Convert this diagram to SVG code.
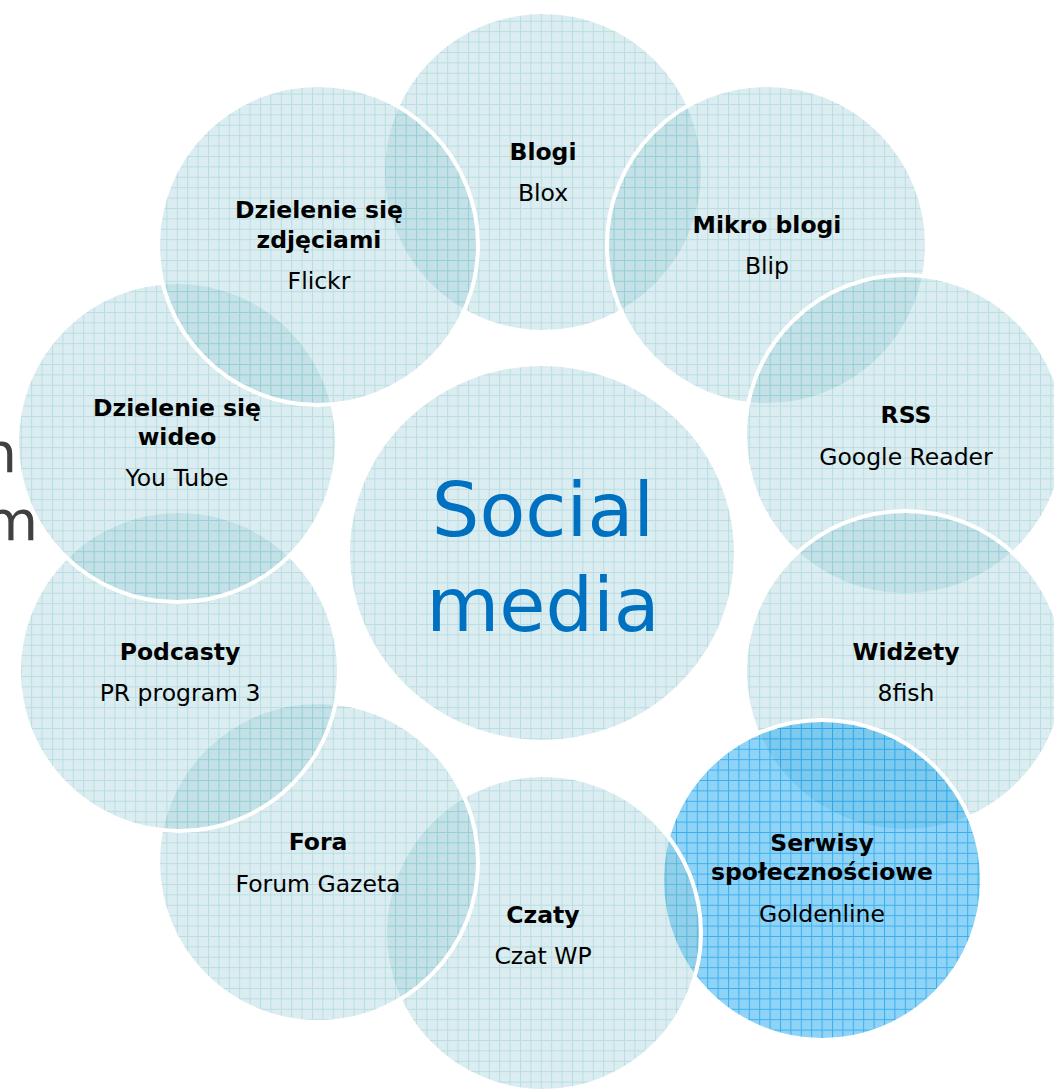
<svg xmlns="http://www.w3.org/2000/svg" width="1054" height="1092" viewBox="0 0 1054 1092">
  <defs>
    <pattern id="gridTeal" patternUnits="userSpaceOnUse" width="10.4" height="10.4">
      <rect width="10.4" height="10.4" fill="rgb(150,204,212)" fill-opacity="0.34"/>
      <path d="M0 0.5H10.4M0.5 0V10.4" stroke="rgb(110,188,198)" stroke-opacity="0.32" stroke-width="1" fill="none"/>
    </pattern>
    <pattern id="gridBlue" patternUnits="userSpaceOnUse" width="10.4" height="10.4">
      <rect width="10.4" height="10.4" fill="rgb(40,172,238)" fill-opacity="0.52"/>
      <path d="M0 0.5H10.4M0.5 0V10.4" stroke="rgb(0,150,232)" stroke-opacity="0.6" stroke-width="1" fill="none"/>
    </pattern>
    <style>
      .c { fill: url(#gridTeal); stroke: #ffffff; stroke-width: 4; }
      .cb { fill: url(#gridBlue); stroke: #ffffff; stroke-width: 4; }
      .bd { fill: #ffffff; }
      .t { font-family: "DejaVu Sans", Verdana, sans-serif; font-size: 23.5px; fill: #000000; text-anchor: middle; }
      .b { font-weight: bold; }
      .big { font-family: "DejaVu Sans", Verdana, sans-serif; font-size: 75px; fill: #0070c0; text-anchor: middle; }
      .bg { font-family: "DejaVu Sans", Verdana, sans-serif; font-size: 56px; fill: #404040; text-anchor: end; }
    </style>
  </defs>

  <rect width="1054" height="1092" fill="#ffffff"/>

  <g id="background-text">
    <text class="bg" x="17" y="472">n</text>
    <text class="bg" x="38" y="540">m</text>
  </g>

  <g id="backdrop">
    <ellipse class="bd" cx="542" cy="553" rx="194" ry="189"/>
    <circle class="bd" cx="543" cy="172" r="160"/>
    <circle class="bd" cx="767" cy="245" r="160"/>
    <circle class="bd" cx="905" cy="435" r="160"/>
    <circle class="bd" cx="905" cy="671" r="160"/>
    <circle class="bd" cx="822" cy="880" r="160"/>
    <circle class="bd" cx="543" cy="933" r="158"/>
    <circle class="bd" cx="318" cy="862" r="160"/>
    <circle class="bd" cx="179" cy="671" r="160"/>
    <circle class="bd" cx="177" cy="442" r="160"/>
    <circle class="bd" cx="318" cy="245" r="160"/>
  </g>

  <g id="node-center">
    <ellipse class="c" cx="542" cy="553" rx="194" ry="189"/>
    <text class="big" x="543" y="536">Social</text>
    <text class="big" x="543" y="631">media</text>
  </g>

  <g id="node-blogi">
    <circle class="c" cx="543" cy="172" r="160"/>
    <text class="t b" x="543" y="160">Blogi</text>
    <text class="t" x="543" y="201">Blox</text>
  </g>

  <g id="node-mikro-blogi">
    <circle class="c" cx="767" cy="245" r="160"/>
    <text class="t b" x="767" y="233">Mikro blogi</text>
    <text class="t" x="767" y="274">Blip</text>
  </g>

  <g id="node-rss">
    <circle class="c" cx="905" cy="435" r="160"/>
    <text class="t b" x="906" y="423">RSS</text>
    <text class="t" x="906" y="465">Google Reader</text>
  </g>

  <g id="node-widzety">
    <circle class="c" cx="905" cy="671" r="160"/>
    <text class="t b" x="906" y="660">Widżety</text>
    <text class="t" x="906" y="701">8fish</text>
  </g>

  <g id="node-serwisy">
    <circle class="cb" cx="822" cy="880" r="160"/>
    <text class="t b" x="822" y="851">Serwisy</text>
    <text class="t b" x="822" y="880">społecznościowe</text>
    <text class="t" x="822" y="922">Goldenline</text>
  </g>

  <g id="node-czaty">
    <circle class="c" cx="543" cy="933" r="158"/>
    <text class="t b" x="543" y="923">Czaty</text>
    <text class="t" x="543" y="964">Czat WP</text>
  </g>

  <g id="node-fora">
    <circle class="c" cx="318" cy="862" r="160"/>
    <text class="t b" x="318" y="850">Fora</text>
    <text class="t" x="318" y="892">Forum Gazeta</text>
  </g>

  <g id="node-podcasty">
    <circle class="c" cx="179" cy="671" r="160"/>
    <text class="t b" x="180" y="660">Podcasty</text>
    <text class="t" x="180" y="701">PR program 3</text>
  </g>

  <g id="node-wideo">
    <circle class="c" cx="177" cy="442" r="160"/>
    <text class="t b" x="177" y="416">Dzielenie się</text>
    <text class="t b" x="177" y="445">wideo</text>
    <text class="t" x="177" y="486">You Tube</text>
  </g>

  <g id="node-zdjecia">
    <circle class="c" cx="318" cy="245" r="160"/>
    <text class="t b" x="319" y="218">Dzielenie się</text>
    <text class="t b" x="319" y="248">zdjęciami</text>
    <text class="t" x="319" y="289">Flickr</text>
  </g>
</svg>
